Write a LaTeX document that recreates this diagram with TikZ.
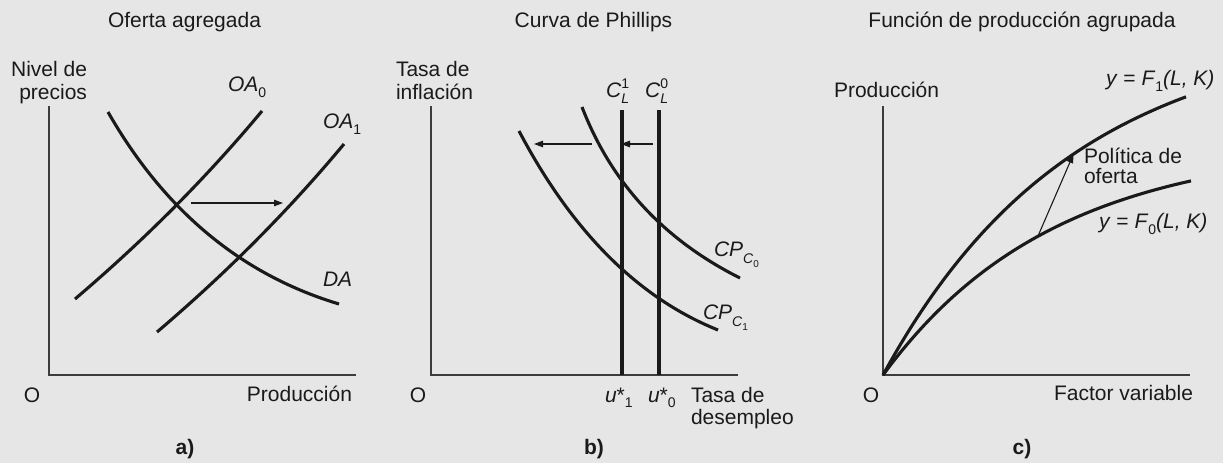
\documentclass[tikz,border=0pt]{standalone}
\usepackage{fontspec}
\setmainfont{Liberation Sans}
\usetikzlibrary{arrows.meta}
\definecolor{bg}{RGB}{230,230,230}
\definecolor{ink}{RGB}{26,26,26}
\newcommand{\smallsz}{\fontsize{14}{14}\selectfont}
\newcommand{\tinysz}{\fontsize{10}{10}\selectfont}
\newcommand{\lo}[2][6pt]{\raisebox{-#1}{\smallsz #2}}
\begin{document}
\begin{tikzpicture}[x=1pt,y=-1pt,
  every node/.style={inner sep=0pt, outer sep=0pt, font=\fontsize{21}{24}\selectfont, text=ink},
  axis/.style={line width=1.6pt, draw=ink!85, line cap=rect},
  curve/.style={line width=3.1pt, draw=ink},
  shiftarrow/.style={line width=1.1pt, draw=ink, -{Triangle[length=9pt,width=6.5pt]}},
]
\fill[bg] (0,0) rectangle (1223,463);
\useasboundingbox (0,0) rectangle (1223,463);

% ---------------- Panel a ----------------
\node[anchor=base] (ta) at (184.5,27.5) {Oferta agregada};
\node[anchor=base east] (ya1) at (87,76) {Nivel de};
\node[anchor=base east] (ya2) at (87,99) {precios};
\node[anchor=base] (oa) at (32,402) {O};
\node[anchor=base east] (xa) at (352,401) {Producción};
\node[anchor=base] (la) at (185,454) {\textbf{a)}};
\coordinate (a0) at (49,375);
\coordinate (ayt) at (49,107);
\coordinate (axr) at (355,375);
\draw[axis] (ayt) -- (a0) -- (axr);
\draw[curve] (75,299) .. controls (144.3,240.1) and (206.7,177.4) .. (262,111);
\draw[curve] (157,332) .. controls (226.3,273.1) and (288.7,210.4) .. (344,144);
\draw[curve] (108,112) .. controls (164.4,210.7) and (241.4,274.7) .. (339,304);
\node[anchor=base west] (oa0) at (228,91.5) {\textit{OA}\lo{0}};
\node[anchor=base west] (oa1) at (323,128) {\textit{OA}\lo{1}};
\node[anchor=base west] (da) at (323,286) {\textit{DA}};
\coordinate (sa1) at (191,203);
\coordinate (sa2) at (283,203);
\draw[shiftarrow] (sa1) -- (sa2);

% ---------------- Panel b ----------------
\node[anchor=base] (tb) at (593.5,27.5) {Curva de Phillips};
\node[anchor=base west] (yb1) at (396,76) {Tasa de};
\node[anchor=base west] (yb2) at (396,99) {inflación};
\node[anchor=base] (ob) at (418,402) {O};
\coordinate (b0) at (431,375);
\coordinate (byt) at (431,107);
\coordinate (bxr) at (737,375);
\draw[axis] (byt) -- (b0) -- (bxr);
\coordinate (c1t) at (622,110);
\coordinate (c1b) at (622,375);
\coordinate (c0t) at (659,110);
\coordinate (c0b) at (659,375);
\draw[curve] (c1t) -- (c1b);
\draw[curve] (c0t) -- (c0b);
\node[anchor=base west] (lc1) at (606,97.3) {\textit{C}\rlap{\raisebox{9pt}{\smallsz 1}}\lo[6.5pt]{\textit{L}}};
\node[anchor=base west] (lc0) at (645,97.3) {\textit{C}\rlap{\raisebox{9pt}{\smallsz 0}}\lo[6.5pt]{\textit{L}}};
\draw[curve] (582,107) .. controls (611.2,182.9) and (663.9,239.9) .. (740,278);
\draw[curve] (519,131) .. controls (572.1,231.8) and (638.4,298.1) .. (718,330);
\node[anchor=base west] (cp0) at (714,256) {\textit{CP}\raisebox{-7pt}{\smallsz\textit{C}\raisebox{-4pt}{\tinysz 0}}};
\node[anchor=base west] (cp1) at (703,319) {\textit{CP}\raisebox{-7pt}{\smallsz\textit{C}\raisebox{-4pt}{\tinysz 1}}};
\coordinate (ar1s) at (592,144);
\coordinate (ar1e) at (534,144);
\coordinate (ar2s) at (653,144);
\coordinate (ar2e) at (621,144);
\draw[shiftarrow] (ar1s) -- (ar1e);
\draw[shiftarrow] (ar2s) -- (ar2e);
\node[anchor=base west] (u1) at (605,402) {\textit{u}*\lo[5pt]{1}};
\node[anchor=base west] (u0) at (648,402) {\textit{u}*\lo[5pt]{0}};
\node[anchor=base west] (xb1) at (691,402) {Tasa de};
\node[anchor=base west] (xb2) at (691,424) {desempleo};
\node[anchor=base] (lb) at (594,454) {\textbf{b)}};

% ---------------- Panel c ----------------
\node[anchor=base] (tc) at (1022,27.5) {Función de producción agrupada};
\node[anchor=base west] (yc) at (834,97) {Producción};
\node[anchor=base] (oc) at (871,402) {O};
\node[anchor=base east] (xc) at (1193,400) {Factor variable};
\node[anchor=base] (lcc) at (1022,454) {\textbf{c)}};
\coordinate (c0) at (883,375);
\coordinate (cyt) at (883,107);
\coordinate (cxr) at (1189,375);
\draw[axis] (cyt) -- (c0) -- (cxr);
\draw[curve] plot[domain=0:303, samples=90, smooth] ({883+\x},{375-349*(1-exp(-\x/190))});
\draw[curve] plot[domain=0:308, samples=90, smooth] ({883+\x},{375-232*(1-exp(-\x/170))});
\coordinate (pa1) at (1038,236);
\coordinate (pa2) at (1073.5,154);
\draw[shiftarrow] (pa1) -- (pa2);
\node[anchor=base west] (po1) at (1084,163) {Política de};
\node[anchor=base west] (po2) at (1084,183) {oferta};
\node[anchor=base west] (f1) at (1106,85) {\textit{y} = \textit{F}\lo{1}\textit{(L, K)}};
\node[anchor=base west] (f0) at (1099,228) {\textit{y} = \textit{F}\lo{0}\textit{(L, K)}};
\end{tikzpicture}
\end{document}
